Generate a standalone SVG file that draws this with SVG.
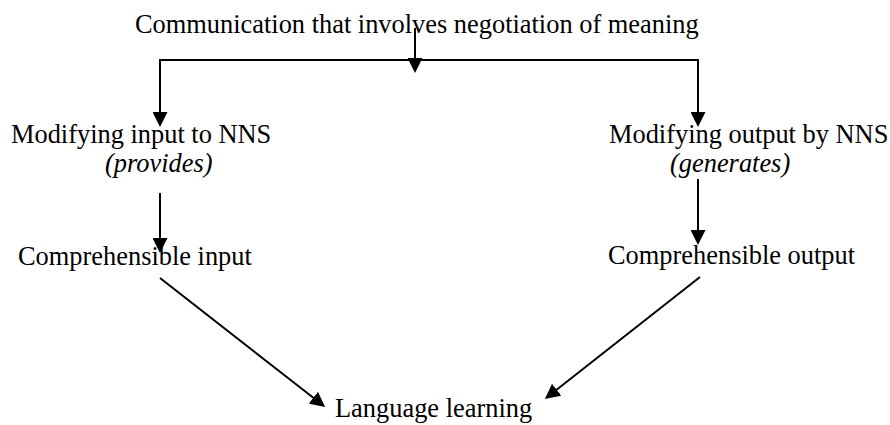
<svg xmlns="http://www.w3.org/2000/svg" width="890" height="425" viewBox="0 0 890 425">
<defs>
<style>
.t{font-family:"Liberation Serif","Times New Roman",serif;font-size:26.4px;fill:#000}
.i{font-style:italic}
.c{stroke:#000;stroke-width:2;fill:none}
</style>
<marker id="ah" markerUnits="userSpaceOnUse" markerWidth="15" markerHeight="15" refX="11" refY="7.5" orient="auto">
<path d="M0,0 L15,7.5 L0,15 z" fill="#000"/>
</marker>
</defs>
<rect width="890" height="425" fill="#fff"/>
<g id="n-communication"><text class="t" x="135" y="33">Communication that involves negotiation of meaning</text></g>
<g id="n-mod-input"><text class="t" x="11" y="143">Modifying input to NNS</text><text class="t i" x="105" y="172">(provides)</text></g>
<g id="n-mod-output"><text class="t" x="609" y="143">Modifying output by NNS</text><text class="t i" x="670" y="172">(generates)</text></g>
<g id="n-comp-input"><text class="t" x="18" y="265">Comprehensible input</text></g>
<g id="n-comp-output"><text class="t" x="608" y="264">Comprehensible output</text></g>
<g id="n-language"><text class="t" x="335" y="417">Language learning</text></g>
<g id="connectors">
<line class="c" x1="415" y1="28" x2="415" y2="69" marker-end="url(#ah)"/>
<polyline class="c" points="160,60 698,60"/>
<line class="c" x1="160" y1="59" x2="160" y2="123" marker-end="url(#ah)"/>
<line class="c" x1="698" y1="59" x2="698" y2="123" marker-end="url(#ah)"/>
<line class="c" x1="160" y1="193" x2="160" y2="249" marker-end="url(#ah)"/>
<line class="c" x1="698" y1="179" x2="698" y2="241" marker-end="url(#ah)"/>
<line class="c" x1="160" y1="278" x2="322" y2="404.5" marker-end="url(#ah)"/>
<line class="c" x1="700" y1="277" x2="548" y2="396.5" marker-end="url(#ah)"/>
</g>
</svg>
